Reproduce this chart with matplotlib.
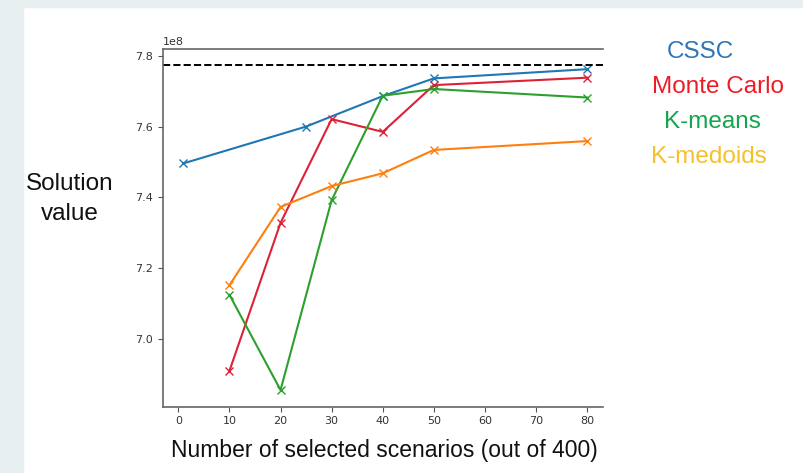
import matplotlib
matplotlib.use("Agg")
import matplotlib.pyplot as plt
from matplotlib.patches import Rectangle

# values (solution value, units of 1)
cssc_x = [1, 25, 40, 50, 80]
cssc_y = [7.496e8, 7.600e8, 7.686e8, 7.736e8, 7.762e8]

mc_x = [10, 20, 30, 40, 50, 80]
mc_y = [6.910e8, 7.328e8, 7.621e8, 7.585e8, 7.717e8, 7.738e8]

km_x = [10, 20, 30, 40, 50, 80]
km_y = [7.125e8, 6.856e8, 7.392e8, 7.687e8, 7.706e8, 7.682e8]

kmed_x = [10, 20, 30, 40, 50, 80]
kmed_y = [7.152e8, 7.373e8, 7.432e8, 7.468e8, 7.534e8, 7.559e8]

best_value = 7.773e8

labels = ["CSSC", "Monte Carlo", "K-means", "K-medoids"]
label_colors = ["#2e75b6", "#ee1c25", "#14a54e", "#f5c02c"]

fig = plt.figure(figsize=(8.04, 4.73), dpi=100)
fig.patch.set_facecolor("white")
# light frame on left and top, like the slide it came from
fig.patches.append(Rectangle((0, 0), 23 / 804, 1, transform=fig.transFigure,
                             color="#e8eff1", zorder=0))
fig.patches.append(Rectangle((0, 1 - 7 / 473), 1, 7 / 473, transform=fig.transFigure,
                             color="#e8eff1", zorder=0))

ax = fig.add_axes([163 / 804, 1 - 406.7 / 473, (603 - 163) / 804, (406.7 - 49) / 473])

ax.plot(cssc_x, cssc_y, marker="x", color="#1f77b4", lw=1.5, ms=6)
ax.plot(mc_x, mc_y, marker="x", color="#dc2236", lw=1.5, ms=6)
ax.plot(km_x, km_y, marker="x", color="#2ca02c", lw=1.5, ms=6)
ax.plot(kmed_x, kmed_y, marker="x", color="#ff7f0e", lw=1.5, ms=6)
ax.axhline(best_value, color="black", ls="--", lw=1.4)

ax.set_xlim(-3, 83.1)
ax.set_ylim(6.809e8, 7.819e8)
ax.set_xticks(range(0, 81, 10))
ax.set_yticks([7.0e8, 7.2e8, 7.4e8, 7.6e8, 7.8e8])
ax.tick_params(labelsize=8, labelcolor="#333333", color="#555555")
ax.yaxis.get_offset_text().set_fontsize(8)
ax.yaxis.get_offset_text().set_color("#333333")

ax.spines["right"].set_visible(False)
for s in ["left", "bottom", "top"]:
    ax.spines[s].set_color("#666666")
    ax.spines[s].set_linewidth(1.2)

font = "Liberation Sans"
fig.text(70 / 804, 1 - 199 / 473, "Solution\nvalue", ha="center", va="center",
         multialignment="center", fontsize=17.5, family=font, color="#111111",
         linespacing=1.45)
fig.text(384 / 804, 1 - 450 / 473, "Number of selected scenarios (out of 400)",
         ha="center", va="center", fontsize=16.5, family=font, color="#111111")

label_pos = [(700, 52), (718, 87), (712, 122), (709, 157)]
for text, c, (px, py) in zip(labels, label_colors, label_pos):
    fig.text(px / 804, 1 - py / 473, text, ha="center", va="center",
             fontsize=17.5, family=font, color=c)

fig.savefig("out.png", dpi=100)
